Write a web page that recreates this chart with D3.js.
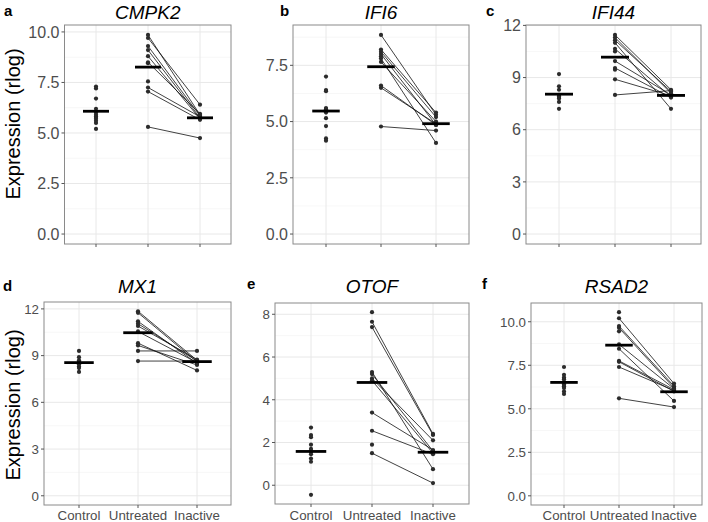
<!DOCTYPE html>
<meta charset="utf-8">
<style>
body { margin: 0; background: #fff; }
text { font-family: "Liberation Sans", Arial, sans-serif; }
</style>
<body>
<svg width="708" height="522"></svg>
<script src="https://d3js.org/d3.v7.min.js"></script>
<script>

var groups = ["Control", "Untreated", "Inactive"];

// untreated / inactive are aligned by patient, null = no inactive sample
var cmpk2Control   = [7.3, 7.2, 6.7, 6.2, 6.0, 5.9, 5.8, 5.8, 5.7, 5.6, 5.5, 5.2];
var cmpk2Untreated = [9.85, 9.7, 9.3, 9.1, 8.8, 8.5, 8.45, 7.55, 7.25, 7.05, 5.3];
var cmpk2Inactive  = [5.9, 6.4, 5.85, 5.75, 5.7, 5.95, null, null, 5.8, 5.65, 4.75];
var cmpk2Ticks = [0, 2.5, 5, 7.5, 10];

var ifi6Control   = [7.0, 6.4, 6.35, 5.6, 5.55, 5.5, 5.4, 5.15, 4.8, 4.25, 4.15];
var ifi6Untreated = [8.85, 8.2, 8.1, 8.0, 7.9, 7.8, 7.65, 6.6, 6.5, 4.78];
var ifi6Inactive  = [5.3, 5.4, 5.2, 4.85, null, 4.05, 5.0, 4.85, 4.9, 4.6];
var ifi6Ticks = [0, 2.5, 5, 7.5];

var ifi44Control   = [9.2, 8.5, 8.3, 7.9, 8.0, 7.9, 7.8, 7.6, 7.2];
var ifi44Untreated = [11.45, 11.3, 11.15, 11.0, 10.65, 10.5, 9.95, 9.55, 9.45, 8.9, 8.0];
var ifi44Inactive  = [8.3, 8.1, 8.2, 7.2, 7.9, null, 8.0, 7.85, null, 7.95, 8.25];
var ifi44Ticks = [0, 3, 6, 9, 12];

var mx1Control   = [9.3, 8.9, 8.7, 8.6, 8.55, 8.45, 8.3, 8.2, 7.95];
var mx1Untreated = [11.85, 11.75, 11.2, 11.05, 10.9, 10.55, 9.8, 9.65, 9.3, 8.65];
var mx1Inactive  = [8.7, 8.6, 8.5, 8.65, 8.75, 8.55, 8.05, 8.4, 9.3, 8.65];
var mx1Ticks = [0, 3, 6, 9, 12];

var otofControl   = [2.7, 2.35, 2.25, 1.9, 1.7, 1.6, 1.55, 1.45, 1.25, 1.1, -0.45];
var otofUntreated = [8.1, 7.65, 7.4, 5.3, 5.2, 5.0, 4.9, 3.4, 2.55, 1.9, 1.5];
var otofInactive  = [null, 2.4, 2.35, 0.75, 1.6, 2.1, 1.5, 1.65, 1.45, null, 0.1];
var otofTicks = [0, 2, 4, 6, 8];

var rsad2Control   = [7.4, 6.8, 6.95, 6.7, 6.55, 6.4, 6.3, 6.2, 6.0, 5.85];
var rsad2Untreated = [10.55, 10.2, 9.75, 9.65, 9.45, 8.7, 8.45, 7.75, 7.7, 7.4, 5.6];
var rsad2Inactive  = [null, 6.45, 6.3, 6.2, null, 6.15, 5.45, 6.1, 6.0, 6.05, 5.1];
var rsad2Ticks = [0, 2.5, 5, 7.5, 10];

var panels = [
  {gene: "CMPK2", letter: "a", c: cmpk2Control, u: cmpk2Untreated, i: cmpk2Inactive, ticks: cmpk2Ticks, fmt: ".1f",
   left: 64.5, right: 231, cx: [96, 200], top: 25, bottom: 244, lx: 4, ly: 16, bottomRow: false},
  {gene: "IFI6", letter: "b", c: ifi6Control, u: ifi6Untreated, i: ifi6Inactive, ticks: ifi6Ticks, fmt: ".1f",
   left: 293, right: 469, cx: [326, 436], top: 25, bottom: 244, lx: 280, ly: 16, bottomRow: false},
  {gene: "IFI44", letter: "c", c: ifi44Control, u: ifi44Untreated, i: ifi44Inactive, ticks: ifi44Ticks, fmt: "d",
   left: 526, right: 701, cx: [559, 671], top: 25, bottom: 244, lx: 486, ly: 16, bottomRow: false},
  {gene: "MX1", letter: "d", c: mx1Control, u: mx1Untreated, i: mx1Inactive, ticks: mx1Ticks, fmt: "d",
   left: 44, right: 231, cx: [79, 197], top: 302, bottom: 505, lx: 3, ly: 291, bottomRow: true},
  {gene: "OTOF", letter: "e", c: otofControl, u: otofUntreated, i: otofInactive, ticks: otofTicks, fmt: "d",
   left: 275, right: 469, cx: [311, 433], top: 303, bottom: 504, lx: 247, ly: 289, bottomRow: true},
  {gene: "RSAD2", letter: "f", c: rsad2Control, u: rsad2Untreated, i: rsad2Inactive, ticks: rsad2Ticks, fmt: ".1f",
   left: 531, right: 702, cx: [564, 674], top: 303, bottom: 505, lx: 482, ly: 289, bottomRow: true}
];

var svg = d3.select("svg");
svg.append("rect").attr("width", 708).attr("height", 522).attr("fill", "#fff");

panels.forEach(function(p) {
  var inact = p.i.filter(function(v) { return v != null; });
  var all = p.c.concat(p.u, inact);
  var lo = Math.min(0, d3.min(all)), hi = d3.max(all), pad = (hi - lo) * 0.05;

  var y = d3.scaleLinear().domain([lo - pad, hi + pad]).range([p.bottom, p.top]);
  var x = d3.scalePoint().domain(groups).range(p.cx);
  var step = x.step();

  var g = svg.append("g");

  // minor grid
  var tstep = p.ticks[1] - p.ticks[0];
  var minor = [];
  for (var t = p.ticks[0] - tstep / 2; t <= hi + pad; t += tstep) {
    if (t >= lo - pad) minor.push(t);
  }
  g.selectAll(".minor").data(minor).enter().append("line")
      .attr("x1", p.left).attr("x2", p.right)
      .attr("y1", function(d) { return y(d); }).attr("y2", function(d) { return y(d); })
      .attr("stroke", "#f2f2f2").attr("stroke-width", 0.6);

  // major grid
  g.selectAll(".major").data(p.ticks).enter().append("line")
      .attr("x1", p.left).attr("x2", p.right)
      .attr("y1", function(d) { return y(d); }).attr("y2", function(d) { return y(d); })
      .attr("stroke", "#e8e8e8").attr("stroke-width", 1);
  g.selectAll(".vgrid").data(groups).enter().append("line")
      .attr("x1", function(d) { return x(d); }).attr("x2", function(d) { return x(d); })
      .attr("y1", p.top).attr("y2", p.bottom)
      .attr("stroke", "#e8e8e8").attr("stroke-width", 1);

  // paired lines untreated -> inactive
  var pairs = p.u.map(function(v, k) { return [v, p.i[k]]; })
      .filter(function(d) { return d[1] != null; });
  g.selectAll(".pair").data(pairs).enter().append("line")
      .attr("x1", x("Untreated")).attr("x2", x("Inactive"))
      .attr("y1", function(d) { return y(d[0]); })
      .attr("y2", function(d) { return y(d[1]); })
      .attr("stroke", "#111").attr("stroke-width", 0.8);

  // points
  var pts = [];
  p.c.forEach(function(v) { pts.push({g: "Control", v: v}); });
  p.u.forEach(function(v) { pts.push({g: "Untreated", v: v}); });
  inact.forEach(function(v) { pts.push({g: "Inactive", v: v}); });
  g.selectAll(".pt").data(pts).enter().append("circle")
      .attr("cx", function(d) { return x(d.g); })
      .attr("cy", function(d) { return y(d.v); })
      .attr("r", 2.1)
      .attr("fill", "#2b2b2b");

  // mean bars
  var means = [
    {g: "Control", m: d3.mean(p.c)},
    {g: "Untreated", m: d3.mean(p.u)},
    {g: "Inactive", m: d3.mean(inact)}
  ];
  g.selectAll(".mean").data(means).enter().append("line")
      .attr("x1", function(d) { return x(d.g) - step * 0.25; })
      .attr("x2", function(d) { return x(d.g) + step * 0.25; })
      .attr("y1", function(d) { return y(d.m); })
      .attr("y2", function(d) { return y(d.m); })
      .attr("stroke", "#000").attr("stroke-width", 2.8);

  // border
  g.append("rect")
      .attr("x", p.left).attr("y", p.top)
      .attr("width", p.right - p.left).attr("height", p.bottom - p.top)
      .attr("fill", "none").attr("stroke", "#8a8a8a").attr("stroke-width", 1);

  // y axis ticks and labels
  g.selectAll(".yt").data(p.ticks).enter().append("line")
      .attr("x1", p.left - 3).attr("x2", p.left)
      .attr("y1", function(d) { return y(d); }).attr("y2", function(d) { return y(d); })
      .attr("stroke", "#555");
  g.selectAll(".yl").data(p.ticks).enter().append("text")
      .attr("x", p.left - 5)
      .attr("y", function(d) { return y(d); })
      .attr("dy", "0.36em")
      .attr("text-anchor", "end")
      .attr("font-size", p.bottomRow ? "13.3px" : "16px")
      .attr("fill", "#4d4d4d")
      .text(function(d) { return d3.format(p.fmt)(d); });

  // x axis ticks
  g.selectAll(".xt").data(groups).enter().append("line")
      .attr("x1", function(d) { return x(d); }).attr("x2", function(d) { return x(d); })
      .attr("y1", p.bottom).attr("y2", p.bottom + 3)
      .attr("stroke", "#555");
  if (p.bottomRow) {
    g.selectAll(".xl").data(groups).enter().append("text")
        .attr("x", function(d) { return x(d); })
        .attr("y", 520)
        .attr("text-anchor", "middle")
        .attr("font-size", "13.3px")
        .attr("fill", "#4d4d4d")
        .text(function(d) { return d; });
  }

  // title and letter
  g.append("text")
      .attr("x", (p.left + p.right) / 2)
      .attr("y", p.bottomRow ? 293 : 19)
      .attr("text-anchor", "middle")
      .attr("font-size", "19px")
      .attr("font-style", "italic")
      .text(p.gene);
  g.append("text")
      .attr("x", p.lx).attr("y", p.ly)
      .attr("font-size", "15px")
      .attr("font-weight", "bold")
      .text(p.letter);
});

// y axis titles
[124, 405].forEach(function(cy) {
  svg.append("text")
      .attr("transform", "translate(20," + cy + ") rotate(-90)")
      .attr("text-anchor", "middle")
      .attr("font-size", "20px")
      .text("Expression (rlog)");
});

</script>
</body>
